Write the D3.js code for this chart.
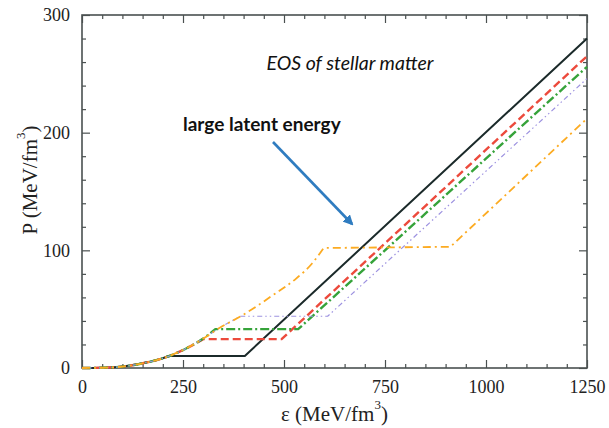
<!DOCTYPE html>
<html>
<head>
<meta charset="utf-8">
<script src="https://cdn.jsdelivr.net/npm/d3@7"></script>
<style>
  body { margin: 0; background: #fff; }
  svg { display: block; }
</style>
</head>
<body>
<svg id="chart"></svg>
<script>
// EOS curves: energy density eps (MeV/fm^3) and pressure P (MeV/fm^3)
const blackEps  = [0, 50, 100, 150, 193, 214, 403, 1250];
const blackP    = [0, 0.2, 1.2, 4, 7.5, 10.2, 10.2, 280];

const redEps    = [0, 50, 100, 150, 193, 222, 260, 300, 494, 1250];
const redP      = [0, 0.2, 1.2, 4, 7.5, 11, 17, 24.5, 24.5, 265];

const greenEps  = [0, 50, 100, 150, 193, 222, 260, 300, 330, 535, 1250];
const greenP    = [0, 0.2, 1.2, 4, 7.5, 11, 17, 25, 33, 33, 256];

const purpleEps = [0, 50, 100, 150, 193, 222, 260, 300, 340, 393, 608, 1250];
const purpleP   = [0, 0.2, 1.2, 4, 7.5, 11, 17, 25, 34, 44, 44, 246];

const orangeEps = [0, 50, 100, 150, 193, 222, 260, 300, 340, 393, 473, 530, 570, 598, 912, 1250];
const orangeP   = [0, 0.2, 1.2, 4, 7.5, 11, 17, 25, 34, 44, 62, 76, 89, 102, 103, 212];

const xTicks = [0, 250, 500, 750, 1000, 1250];
const yTicks = [0, 100, 200, 300];

const width = 609;
const height = 428;
const margin = ({ top: 15, right: 22, bottom: 60, left: 82 });

let x = d3.scaleLinear()
    .domain([0, 1250])
    .range([margin.left, width - margin.right]);

let y = d3.scaleLinear()
    .domain([0, 300])
    .range([height - margin.bottom, margin.top]);

const svg = d3.select("#chart")
    .attr("width", width)
    .attr("height", height)
    .attr("viewBox", [0, 0, width, height]);

const axisColor = "#4a5050";
const serif = "'Liberation Serif', 'Times New Roman', serif";
const sans = "Lato, 'Open Sans', sans-serif";

// minor ticks every 50 on x and 20 on y
const xMinor = d3.range(0, 1251, 50).filter(v => v % 250 !== 0);
const yMinor = d3.range(0, 301, 20).filter(v => v % 100 !== 0);

function styleAxis(g) {
    g.selectAll("line").attr("stroke", axisColor).attr("stroke-width", 1.2);
    g.selectAll(".domain").remove();
    g.selectAll("text")
        .attr("font-family", serif)
        .attr("font-size", 18)
        .attr("fill", "#222");
}

// bottom
svg.append("g")
    .attr("transform", `translate(0,${y(0)})`)
    .call(d3.axisBottom(x).tickValues(xTicks).tickSize(-8).tickPadding(12).tickFormat(d3.format("d")))
    .call(styleAxis);
svg.append("g")
    .attr("transform", `translate(0,${y(0)})`)
    .call(d3.axisBottom(x).tickValues(xMinor).tickSize(-4).tickFormat(""))
    .call(styleAxis);

// top
svg.append("g")
    .attr("transform", `translate(0,${y(300)})`)
    .call(d3.axisTop(x).tickValues(xTicks).tickSize(-8).tickFormat(""))
    .call(styleAxis);
svg.append("g")
    .attr("transform", `translate(0,${y(300)})`)
    .call(d3.axisTop(x).tickValues(xMinor).tickSize(-4).tickFormat(""))
    .call(styleAxis);

// left
svg.append("g")
    .attr("transform", `translate(${x(0)},0)`)
    .call(d3.axisLeft(y).tickValues(yTicks).tickSize(-8).tickPadding(12).tickFormat(d3.format("d")))
    .call(styleAxis);
svg.append("g")
    .attr("transform", `translate(${x(0)},0)`)
    .call(d3.axisLeft(y).tickValues(yMinor).tickSize(-4).tickFormat(""))
    .call(styleAxis);

// right
svg.append("g")
    .attr("transform", `translate(${x(1250)},0)`)
    .call(d3.axisRight(y).tickValues(yTicks).tickSize(-8).tickFormat(""))
    .call(styleAxis);
svg.append("g")
    .attr("transform", `translate(${x(1250)},0)`)
    .call(d3.axisRight(y).tickValues(yMinor).tickSize(-4).tickFormat(""))
    .call(styleAxis);

// frame
svg.append("rect")
    .attr("x", x(0))
    .attr("y", y(300))
    .attr("width", x(1250) - x(0))
    .attr("height", y(0) - y(300))
    .attr("fill", "none")
    .attr("stroke", axisColor)
    .attr("stroke-width", 1.6);

// curves: smooth up to the start of the mixed phase, then straight pieces
const smoothLine = d3.line()
    .x(d => x(d[0]))
    .y(d => y(d[1]))
    .curve(d3.curveMonotoneX);
const straightLine = d3.line()
    .x(d => x(d[0]))
    .y(d => y(d[1]));

function eosPath(eps, p) {
    const pts = eps.map((e, i) => [e, p[i]]);
    // the widest gap before the last point is the flat (mixed phase) part
    let k = 0;
    for (let i = 0; i < pts.length - 2; i++) {
        if (pts[i + 1][0] - pts[i][0] > pts[k + 1][0] - pts[k][0]) k = i;
    }
    const low = smoothLine(pts.slice(0, k + 1));
    const rest = straightLine(pts.slice(k)).replace(/^M/, "L");
    return low + rest;
}

const series = [
    { eps: blackEps, p: blackP, color: "#1b2a2a", w: 2, dash: null },
    { eps: redEps, p: redP, color: "#ec4a3c", w: 2.4, dash: "8,4" },
    { eps: greenEps, p: greenP, color: "#36a33a", w: 2.4, dash: "9,3,2,3" },
    { eps: purpleEps, p: purpleP, color: "#9d92e0", w: 1.2, dash: "5,3,1.5,3,1.5,3" },
    { eps: orangeEps, p: orangeP, color: "#fcab22", w: 1.8, dash: "8,4,2,4" }
];

const plot = svg.append("g");
series.forEach(s => {
    plot.append("path")
        .attr("d", eosPath(s.eps, s.p))
        .attr("fill", "none")
        .attr("stroke", s.color)
        .attr("stroke-width", s.w)
        .attr("stroke-dasharray", s.dash)
        .attr("stroke-linejoin", "round");
});

// axis titles
const yTitle = svg.append("text")
    .attr("transform", `translate(37,180) rotate(-90)`)
    .attr("text-anchor", "middle")
    .attr("font-family", serif)
    .attr("font-size", 21)
    .attr("fill", "#222");
yTitle.append("tspan").text("P (MeV/fm");
yTitle.append("tspan").attr("dy", -12).attr("font-size", 13).text("3");
yTitle.append("tspan").attr("dy", 12).text(")");

const xTitle = svg.append("text")
    .attr("x", (x(0) + x(1250)) / 2)
    .attr("y", 421)
    .attr("text-anchor", "middle")
    .attr("font-family", serif)
    .attr("font-size", 21)
    .attr("fill", "#222");
xTitle.append("tspan").text("ε (MeV/fm");
xTitle.append("tspan").attr("dy", -12).attr("font-size", 13).text("3");
xTitle.append("tspan").attr("dy", 12).text(")");

// annotations
svg.append("text")
    .attr("x", 350)
    .attr("y", 70)
    .attr("text-anchor", "middle")
    .attr("font-family", sans)
    .attr("font-style", "italic")
    .attr("font-size", 19.5)
    .attr("fill", "#111")
    .text("EOS of stellar matter");

svg.append("text")
    .attr("x", 183)
    .attr("y", 131)
    .attr("font-family", sans)
    .attr("font-weight", "bold")
    .attr("font-size", 19)
    .attr("fill", "#111")
    .text("large latent energy");

svg.append("defs").append("marker")
    .attr("id", "head")
    .attr("viewBox", "0 0 10 10")
    .attr("refX", 8)
    .attr("refY", 5)
    .attr("markerWidth", 4)
    .attr("markerHeight", 4)
    .attr("orient", "auto")
    .append("path")
    .attr("d", "M0,0 L10,5 L0,10 z")
    .attr("fill", "#2f7cc0");

svg.append("line")
    .attr("x1", 273)
    .attr("y1", 142)
    .attr("x2", 352)
    .attr("y2", 224)
    .attr("stroke", "#2f7cc0")
    .attr("stroke-width", 2.6)
    .attr("marker-end", "url(#head)");
</script>
</body>
</html>
